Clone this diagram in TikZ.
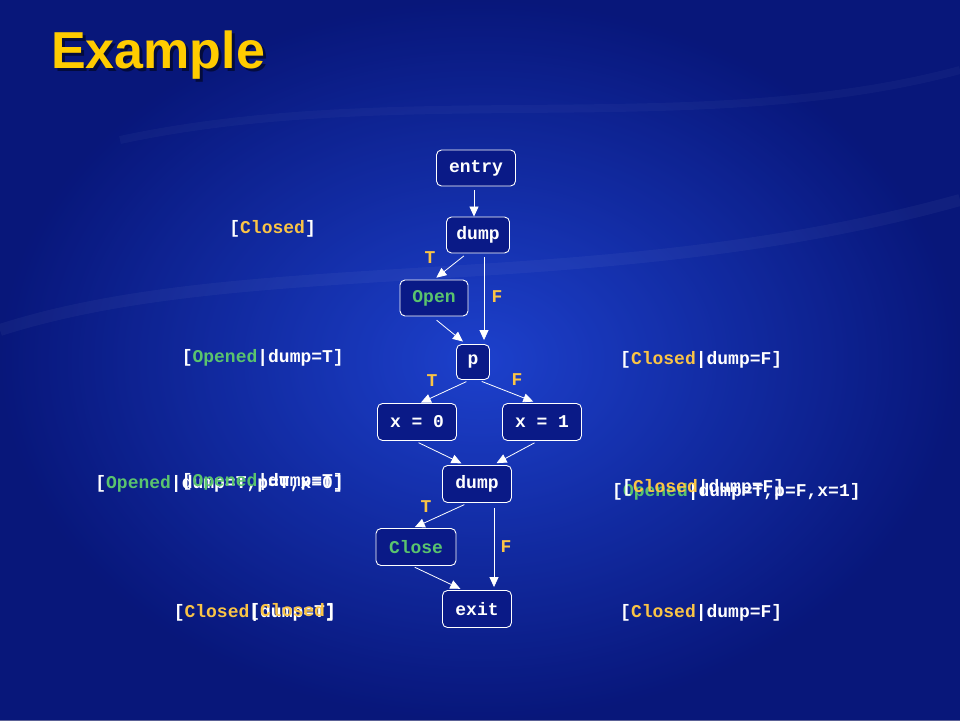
\documentclass[tikz,border=0pt]{standalone}
\usepackage{fontspec}
\setmainfont{Liberation Sans}
\setmonofont{Liberation Mono}
\usetikzlibrary{arrows.meta}

\definecolor{bgblue}{RGB}{16,40,175}
\definecolor{bglight}{RGB}{36,78,220}
\definecolor{bgdark}{RGB}{4,14,95}
\definecolor{boxblue}{RGB}{10,26,135}
\definecolor{ttlyellow}{RGB}{255,204,0}
\definecolor{stgold}{RGB}{250,196,70}
\definecolor{stgreen}{RGB}{90,196,110}

\newcommand{\stcl}{\textcolor{stgold}{Closed}}
\newcommand{\stopn}{\textcolor{stgreen}{Opened}}

\begin{document}
\begin{tikzpicture}[x=1pt,y=-1pt,
    mono/.style={font=\ttfamily\bfseries\fontsize{18}{20}\selectfont},
    blk/.style={mono,draw=white,fill=boxblue,rounded corners=5pt,line width=0.9pt,
      minimum height=36pt,inner sep=0pt,text=white},
    branch/.style={mono,text=stgold,inner sep=0pt},
    st/.style={mono,text=white,inner sep=0pt},
    arr/.style={-{Triangle[width=9pt,length=10pt]},white,line width=0.8pt}]
    \useasboundingbox (0,0) rectangle (960,720);
    % background
    \fill[bgblue] (0,0) rectangle (960,720);
    \shade[inner color=bglight,outer color=bgdark,opacity=0.65] (0,0) rectangle (960,720);
    \draw[white,opacity=0.04,line width=12pt] (0,330) .. controls (250,250) and (600,300) .. (960,200);
    \draw[white,opacity=0.03,line width=8pt] (120,140) .. controls (400,80) and (700,140) .. (960,70);

    % title
    \node[font=\bfseries\fontsize{52}{52}\selectfont,text=black,opacity=0.5] (titleshadow) at (161,58) {Example};
    \node[font=\bfseries\fontsize{52}{52}\selectfont,text=ttlyellow] (title) at (158,55) {Example};

    % flow graph
    \node[blk,minimum width=79pt] (entry) at (476,168) {entry};
    \node[blk,minimum width=63pt] (dumpA) at (478,235) {dump};
    \node[blk,minimum width=68pt,text=stgreen] (open) at (434,298) {Open};
    \node[blk,minimum width=33pt,minimum height=35pt] (p) at (473,362) {p};
    \node[blk,minimum width=79pt,minimum height=37pt] (xzero) at (417,422) {x = 0};
    \node[blk,minimum width=79pt,minimum height=37pt] (xone) at (542,422) {x = 1};
    \node[blk,minimum width=69pt,minimum height=37pt] (dumpB) at (477,484) {dump};
    \node[blk,minimum width=80pt,minimum height=37pt,text=stgreen] (close) at (416,547) {Close};
    \node[blk,minimum width=69pt,minimum height=37pt] (exit) at (477,609) {exit};

    \draw[arr,shorten <=4pt] ([xshift=-2pt]entry.south) -- ([xshift=-2pt]entry.south |- dumpA.north);
    \draw[arr,shorten <=4pt,shorten >=3pt] ([xshift=-11pt]dumpA.south) -- (open.north);
    \draw[arr,shorten <=4pt,shorten >=4pt] ([xshift=6pt]dumpA.south) -- ([xshift=6pt]dumpA.south |- p.north);
    \draw[arr,shorten <=6pt,shorten >=4pt] ([xshift=-2pt]open.south) -- ([xshift=-7pt]p.north);
    \draw[arr,shorten <=4pt,shorten >=1pt] ([xshift=-3pt]p.south) -- ([xshift=3pt]xzero.north);
    \draw[arr,shorten <=4pt,shorten >=4pt] ([xshift=5pt]p.south) -- ([xshift=-5pt]xone.north);
    \draw[arr,shorten <=4pt,shorten >=4pt] ([xshift=-2pt]xzero.south) -- ([xshift=-12pt]dumpB.north);
    \draw[arr,shorten <=4pt,shorten >=4pt] ([xshift=-4pt]xone.south) -- ([xshift=16pt]dumpB.north);
    \draw[arr,shorten <=4pt,shorten >=2pt] ([xshift=-9pt]dumpB.south) -- ([xshift=-3pt]close.north);
    \draw[arr,shorten <=5pt,shorten >=3pt] ([xshift=17pt]dumpB.south) -- ([xshift=17pt]dumpB.south |- exit.north);
    \draw[arr,shorten <=3pt,shorten >=3pt] ([xshift=-4pt]close.south) -- ([xshift=-14pt]exit.north);

    \node[branch] (tA) at (430,258) {T};
    \node[branch] (fA) at (497,297) {F};
    \node[branch] (tB) at (432,381) {T};
    \node[branch] (fB) at (517,380) {F};
    \node[branch] (tC) at (426,507) {T};
    \node[branch] (fC) at (506,547) {F};

    % abstract states
    \node[st,anchor=east] (sA) at (316,229) {[\stcl]};
    \node[st,anchor=east] (sB) at (344,358) {[\stopn|dump=T]};
    \node[st,anchor=west] (sC) at (620,360) {[\stcl|dump=F]};
    \node[st,anchor=east] (sD) at (344,484) {[\stopn|dump=T,p=T,x=0]};
    \node[st,anchor=east] (sDo) at (344,482) {[\stopn|dump=T]};
    \node[st,anchor=west] (sE) at (612,492) {[\stopn|dump=T,p=F,x=1]};
    \node[st,anchor=west] (sEo) at (622,488) {[\stcl|dump=F]};
    \node[st,anchor=east] (sF) at (336,613) {[\stcl|dump=T]};
    \node[st,anchor=east] (sFo) at (336,612) {[\stcl]};
    \node[st,anchor=west] (sG) at (620,613) {[\stcl|dump=F]};
\end{tikzpicture}
\end{document}
